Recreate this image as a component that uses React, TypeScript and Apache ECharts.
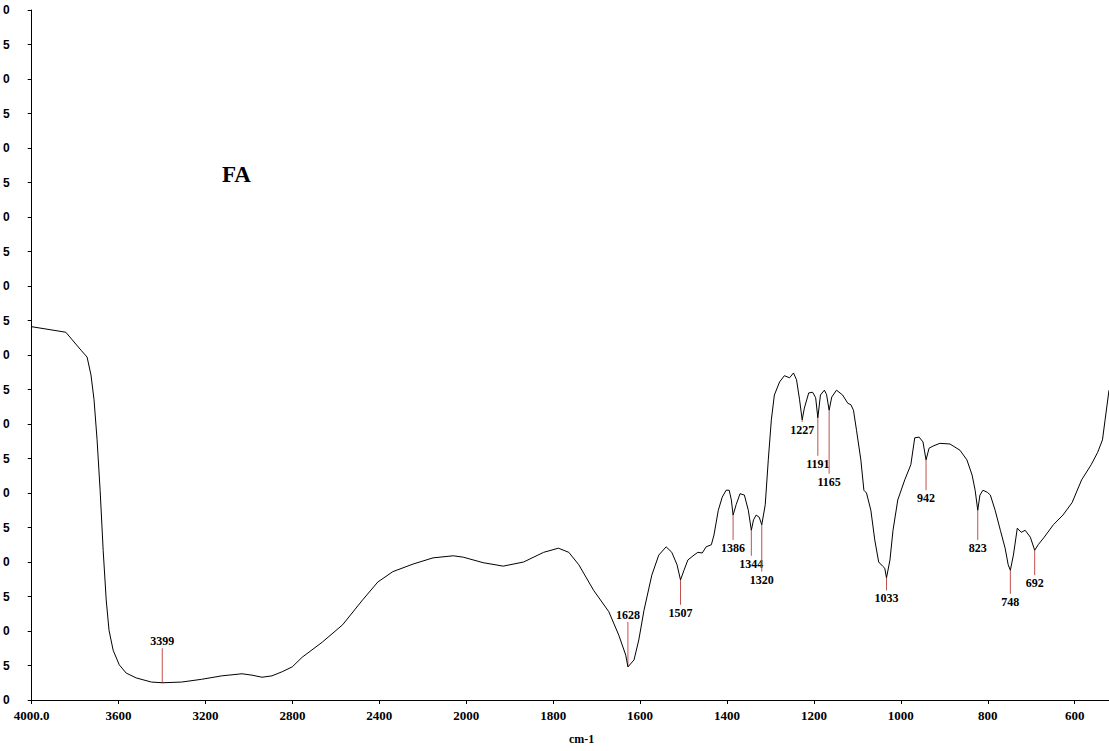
import React, { useEffect, useRef } from "react";
import * as echarts from "echarts";

// IR spectrum of FA: [wavenumber (cm-1), transmittance]
const spectrum: [number, number][] = [
  [4000, 54.1], [3843, 53.3], [3773, 50.7], [3745, 49.7], [3727, 47.1], [3713, 43.5],
  [3699, 37.7], [3685, 30.4], [3671, 21.7], [3657, 14.5], [3644, 10.1], [3625, 7.2],
  [3597, 5.1], [3565, 3.9], [3519, 3.2], [3449, 2.6], [3399, 2.5], [3310, 2.6],
  [3218, 3.0], [3125, 3.5], [3032, 3.8], [2986, 3.6], [2940, 3.3], [2894, 3.5],
  [2847, 4.1], [2801, 4.8], [2755, 6.2], [2662, 8.4], [2569, 10.9], [2477, 14.5],
  [2407, 17.1], [2338, 18.6], [2245, 19.7], [2153, 20.6], [2060, 20.9], [2014, 20.7],
  [1961, 19.9], [1915, 19.4], [1868, 20.0], [1822, 21.4], [1788, 22.0], [1764, 21.4],
  [1741, 19.6], [1707, 15.9], [1672, 12.8], [1649, 9.4], [1633, 6.5], [1628, 4.8],
  [1614, 5.8], [1603, 8.7], [1591, 13.0], [1573, 18.1], [1557, 21.0], [1540, 22.2],
  [1527, 21.4], [1515, 19.6], [1507, 17.4], [1499, 18.8], [1490, 20.3], [1476, 21.0],
  [1467, 21.4], [1457, 21.3], [1448, 22.2], [1436, 22.5], [1430, 23.9], [1420, 27.5],
  [1411, 29.4], [1402, 30.4], [1395, 30.4], [1390, 29.0], [1386, 26.8], [1379, 28.3],
  [1370, 29.9], [1360, 29.7], [1351, 27.5], [1344, 24.6], [1339, 26.1], [1333, 26.8],
  [1326, 26.5], [1320, 25.4], [1312, 28.3], [1305, 34.8], [1298, 40.6], [1291, 44.2],
  [1279, 46.1], [1268, 47.0], [1256, 46.7], [1247, 47.4], [1240, 46.4], [1233, 43.5],
  [1227, 40.6], [1222, 42.3], [1212, 44.5], [1203, 44.6], [1196, 43.8], [1191, 40.9],
  [1185, 44.2], [1176, 44.9], [1171, 44.3], [1165, 42.0], [1159, 43.9], [1148, 44.9],
  [1134, 44.2], [1122, 43.0], [1115, 42.8], [1109, 42.0], [1102, 39.1], [1092, 34.8],
  [1085, 30.4], [1079, 30.0], [1069, 27.5], [1060, 23.2], [1051, 20.0], [1042, 19.4],
  [1037, 19.1], [1033, 17.7], [1025, 20.3], [1018, 24.6], [1007, 29.0], [991, 31.9],
  [977, 34.1], [968, 38.0], [958, 38.1], [949, 37.4], [942, 34.8], [935, 36.5],
  [926, 36.8], [910, 37.2], [887, 37.1], [864, 36.2], [848, 34.8], [836, 32.6],
  [829, 30.4], [823, 27.5], [818, 29.7], [811, 30.4], [801, 30.1], [794, 29.7],
  [783, 27.5], [771, 24.6], [760, 22.0], [753, 19.6], [748, 18.8], [741, 21.0],
  [732, 24.9], [723, 24.3], [714, 24.6], [702, 23.6], [692, 21.7], [684, 22.5],
  [670, 23.6], [649, 25.4], [627, 26.8], [606, 28.6], [584, 31.9], [562, 34.1],
  [547, 35.9], [536, 37.7], [530, 40.6], [521, 44.9],
];

// Peak annotations
const peakWavenumbers = [3399, 1628, 1507, 1386, 1344, 1320, 1227, 1191, 1165, 1033, 942, 823, 748, 692];
const peakStartT = [2.5, 4.8, 17.4, 26.8, 24.6, 25.4, 40.6, 40.9, 42.0, 17.7, 34.8, 27.5, 18.8, 21.7];
const peakEndT = [7.5, 11.3, 13.8, 23.2, 20.9, 18.6, 40.3, 35.4, 32.8, 15.9, 30.4, 23.2, 15.4, 18.1];

// x-axis: 4000-2000 compressed 2x relative to 2000-500
const toU = (w: number) => (w >= 2000 ? (4000 - w) / 2 : 1000 + (2000 - w));
const fromU = (u: number) => (u <= 1000 ? 4000 - 2 * u : 2000 - (u - 1000));
const xEndWavenumber = 521;

export default function App() {
  const ref = useRef<HTMLDivElement>(null);
  useEffect(() => {
    if (!ref.current) return;
    const chart = echarts.init(ref.current, undefined, { renderer: "svg" });
    chart.setOption({
      animation: false,
      backgroundColor: "#fff",
      grid: { left: 31, top: 10, right: 0, bottom: 51 },
      xAxis: {
        type: "value",
        min: 0,
        max: toU(xEndWavenumber),
        interval: 200,
        axisLine: { show: true, lineStyle: { color: "#000", width: 1 } },
        axisTick: { show: true, length: 4, lineStyle: { color: "#000" } },
        splitLine: { show: false },
        axisLabel: {
          fontFamily: "Liberation Serif",
          fontWeight: "bold",
          fontSize: 13,
          color: "#000",
          margin: 9,
          showMaxLabel: false,
          formatter: (u: number) => {
            const w = Math.round(fromU(u));
            return u === 0 ? w.toFixed(1) : String(w);
          },
        },
      },
      yAxis: {
        type: "value",
        min: 0,
        max: 100,
        interval: 5,
        axisLine: { show: true, lineStyle: { color: "#000", width: 1 } },
        axisTick: { show: true, length: 4, lineStyle: { color: "#000" } },
        splitLine: { show: false },
        axisLabel: {
          fontFamily: "Liberation Sans",
          fontWeight: "bold",
          fontSize: 12,
          color: "#000",
          margin: 22,
          formatter: (v: number) => String(v % 10),
        },
      },
      series: [
        {
          type: "line",
          data: spectrum.map(([w, t]) => [toU(w), t]),
          showSymbol: false,
          symbol: "none",
          lineStyle: { color: "#000", width: 1 },
          silent: true,
        },
        {
          type: "custom",
          silent: true,
          clip: false,
          data: peakWavenumbers.map((w, i) => [toU(w), peakStartT[i], peakEndT[i], w]),
          encode: { x: 0, y: 1 },
          renderItem: (_p: any, api: any) => {
            const u = api.value(0);
            const t1 = api.value(1);
            const t2 = api.value(2);
            const p1 = api.coord([u, t1]);
            const p2 = api.coord([u, t2]);
            const up = t2 > t1;
            return {
              type: "group",
              children: [
                {
                  type: "line",
                  shape: { x1: p1[0], y1: p1[1], x2: p2[0], y2: p2[1] },
                  style: { stroke: "#c0504d", lineWidth: 1 },
                },
                {
                  type: "text",
                  style: {
                    text: String(api.value(3)),
                    x: p2[0],
                    y: up ? p2[1] - 1 : p2[1] + 2,
                    align: "center",
                    verticalAlign: up ? "bottom" : "top",
                    font: 'bold 12px "Liberation Serif"',
                    fill: "#000",
                  },
                },
              ],
            };
          },
        },
      ],
      graphic: [
        {
          type: "text",
          left: 222,
          top: 163,
          style: { text: "FA", font: 'bold 23px "Liberation Serif"', fill: "#000" },
        },
        {
          type: "text",
          left: 569,
          top: 733,
          style: { text: "cm-1", font: 'bold 12px "Liberation Serif"', fill: "#000" },
        },
      ],
    });
    return () => chart.dispose();
  }, []);
  return <div ref={ref} style={{ width: 1109, height: 751, position: "absolute", left: 0, top: 0 }} />;
}
